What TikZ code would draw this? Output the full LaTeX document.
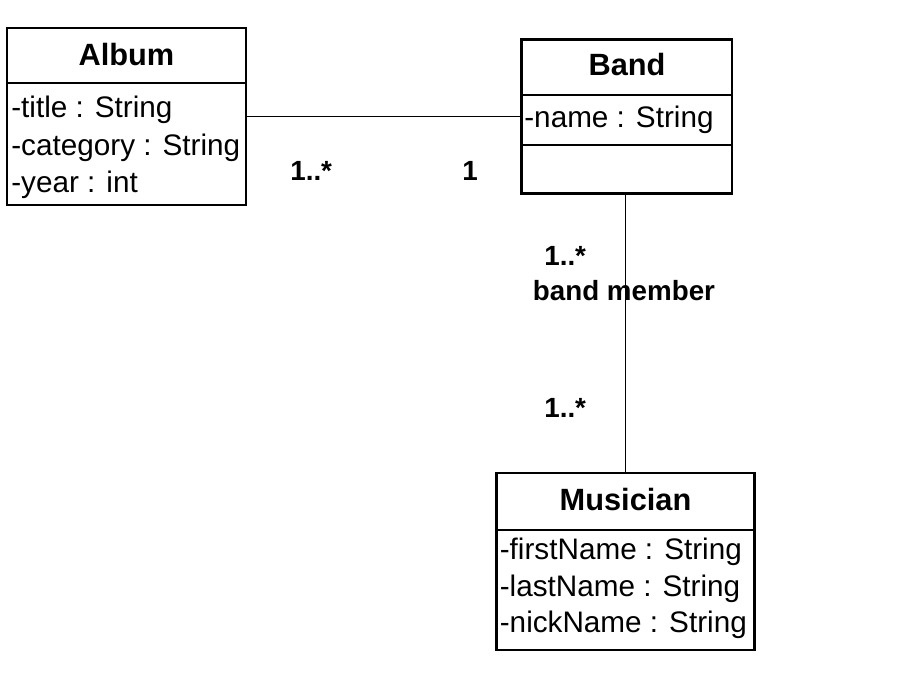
\documentclass[tikz,border=0pt]{standalone}
\usepackage{fontspec}
\setmainfont{Liberation Sans}
\newcommand{\clsfont}{\fontsize{17.5}{20}\selectfont\bfseries}
\newcommand{\attfont}{\fontsize{16.9}{19}\selectfont}
\newcommand{\lblfont}{\fontsize{15.8}{18}\selectfont\bfseries}
\tikzset{
    classbox/.style={draw, line width=1.4pt, inner sep=0pt},
    clsname/.style={font=\clsfont, inner sep=0pt, anchor=base},
    attr/.style={font=\attfont, inner sep=0pt, anchor=base west},
    mult/.style={font=\lblfont, inner sep=0pt, anchor=base west},
    assoc/.style={line width=1.1pt}
}
\begin{document}
\begin{tikzpicture}[x=0.02cm, y=-0.02cm]
    \useasboundingbox (0,0) rectangle (900,697);
    % classes
    \node[classbox, minimum width=4.78cm, minimum height=3.54cm] (album) at (126.5,116.5) {};
    \node[classbox, minimum width=4.21cm, minimum height=3.08cm] (band) at (626.75,116.5) {};
    \node[classbox, minimum width=5.16cm, minimum height=3.54cm] (musician) at (625.5,561.5) {};
    \draw[line width=1.4pt] (album.west |- 0,83) -- (album.east |- 0,83);
    \draw[line width=1.4pt] (band.west |- 0,95) -- (band.east |- 0,95);
    \draw[line width=1.4pt] (band.west |- 0,145) -- (band.east |- 0,145);
    \draw[line width=1.4pt] (musician.west |- 0,530) -- (musician.east |- 0,530);
    \node[clsname] (album-name) at (126.5,65) {Album};
    \node[clsname] (band-name) at (627,75) {Band};
    \node[clsname] (musician-name) at (625.5,510) {Musician};
    \foreach \txt [count=\i] in {-title : String, -category : String, -year : int}
        \node[attr] (album-\i) at (11,80+37.5*\i) {\txt};
    \node[attr] (band-1) at (524,127) {-name : String};
    \foreach \txt [count=\i] in {-firstName : String, -lastName : String, -nickName : String}
        \node[attr] (musician-\i) at (499.5,523+36.5*\i) {\txt};
    % associations
    \draw[assoc] (album) -- (band);
    \draw[assoc] (musician.north |- band.south) -- (musician.north);
    \node[mult] (m-album) at (290,180) {1..*};
    \node[mult] (m-band) at (462,180) {1};
    \node[mult] (m-bandtop) at (544,265) {1..*};
    \node[mult, anchor=base] (role) at (624,300) {band member};
    \node[mult] (m-musician) at (544,417) {1..*};
\end{tikzpicture}
\end{document}
